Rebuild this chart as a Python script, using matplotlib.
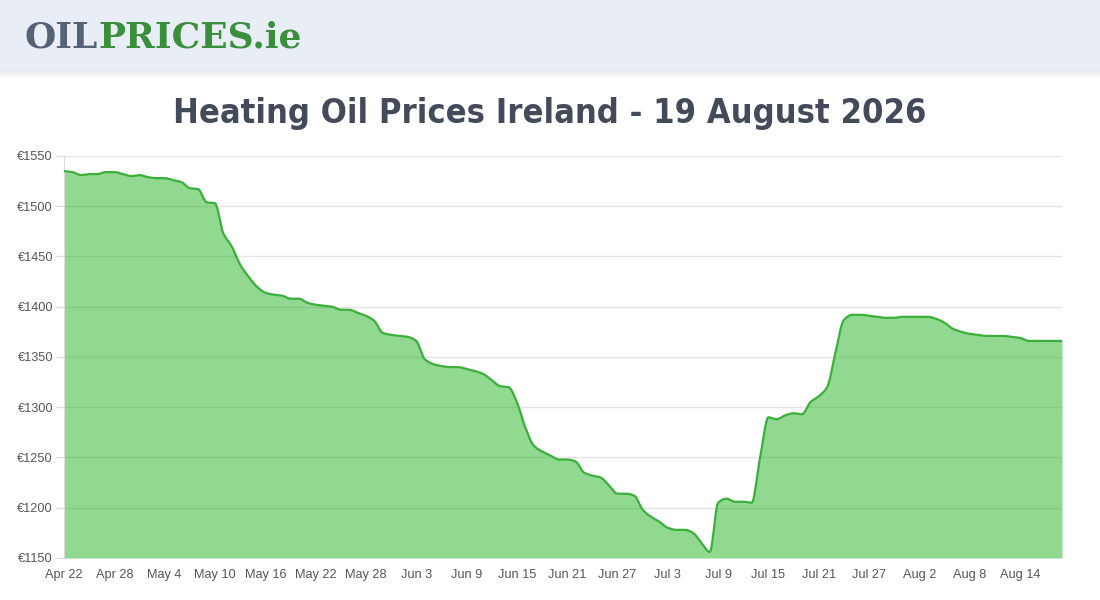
import numpy as np
import matplotlib
matplotlib.use("Agg")
import matplotlib.pyplot as plt
import matplotlib.dates as mdates
from matplotlib.patches import Rectangle

# daily heating oil price, starting Apr 22 2026
start = np.datetime64("2026-04-22")
prices = [
    1535, 1534, 1531, 1532, 1532, 1534, 1534, 1532, 1530, 1531,
    1529, 1528, 1528, 1526, 1524, 1518, 1517, 1504, 1503, 1473,
    1460, 1442, 1430, 1420, 1414, 1412, 1411, 1408, 1408, 1404,
    1402, 1401, 1400, 1397, 1397, 1394, 1391, 1386, 1374, 1372,
    1371, 1370, 1366, 1348, 1343, 1341, 1340, 1340, 1338, 1336,
    1333, 1327, 1321, 1320, 1305, 1280, 1262, 1256, 1252, 1248,
    1248, 1246, 1235, 1232, 1230, 1222, 1214, 1214, 1212, 1198,
    1191, 1186, 1180, 1178, 1178, 1175, 1165, 1156, 1205, 1209,
    1206, 1206, 1205, 1250, 1290, 1288, 1292, 1294, 1293, 1305,
    1311, 1320, 1355, 1387, 1392, 1392, 1391, 1390, 1389, 1389,
    1390, 1390, 1390, 1390, 1388, 1384, 1378, 1375, 1373, 1372,
    1371, 1371, 1371, 1370, 1369, 1366, 1366, 1366, 1366, 1366,
]
y_ticks = [1150, 1200, 1250, 1300, 1350, 1400, 1450, 1500, 1550]
title = "Heating Oil Prices Ireland - 19 August 2026"

dates = start + np.arange(len(prices))
xnum = mdates.date2num(dates.astype("datetime64[D]").astype(object))
yv = np.array(prices, dtype=float)


def monotone(x, y, n=12):
    # monotone cubic curve through the points, for drawing only
    h = np.diff(x)
    d = np.diff(y) / h
    m = np.zeros_like(y)
    m[0], m[-1] = d[0], d[-1]
    for i in range(1, len(y) - 1):
        if d[i - 1] * d[i] > 0:
            m[i] = 2 / (1 / d[i - 1] + 1 / d[i])
    xs, ys = [], []
    for i in range(len(h)):
        t = np.linspace(0, 1, n, endpoint=False)
        h00 = 2 * t**3 - 3 * t**2 + 1
        h10 = t**3 - 2 * t**2 + t
        h01 = -2 * t**3 + 3 * t**2
        h11 = t**3 - t**2
        xs.append(x[i] + t * h[i])
        ys.append(h00 * y[i] + h10 * h[i] * m[i] + h01 * y[i + 1] + h11 * h[i] * m[i + 1])
    xs.append([x[-1]])
    ys.append([y[-1]])
    return np.concatenate(xs), np.concatenate(ys)


sx, sy = monotone(xnum, yv)

fig = plt.figure(figsize=(11, 6), dpi=100)
fig.patch.set_facecolor("white")
renderer = fig.canvas.get_renderer()


def fit_width(txt, target):
    # shrink/grow a text so it spans `target` pixels
    w = txt.get_window_extent(renderer).width
    txt.set_fontsize(txt.get_fontsize() * target / w)


# header band with soft shadow
for k in range(8):
    fig.patches.append(Rectangle((0, 1 - (70 + k) / 600), 1, 1 / 600,
                                 transform=fig.transFigure, color="#000000",
                                 alpha=0.03 * (8 - k) / 8, zorder=0))
fig.patches.append(Rectangle((0, 1 - 70 / 600), 1, 70 / 600, transform=fig.transFigure,
                             color="#E9EDF5", zorder=1))

logo = fig.text(25 / 1100, 1 - 38 / 600, "OILPRICES.ie", family="DejaVu Serif",
                weight="heavy", size=28, va="center", ha="left", alpha=0)
fit_width(logo, 278)
lsize = logo.get_fontsize()
t1 = fig.text(25 / 1100, 1 - 38 / 600, "OIL", color="#566275", va="center", ha="left",
              family="DejaVu Serif", weight="heavy", size=lsize)
bb = t1.get_window_extent(renderer)
fig.text(bb.x1 / 1100, 1 - 38 / 600, "PRICES.ie", color="#3A8F3C", va="center", ha="left",
         family="DejaVu Serif", weight="heavy", size=lsize)

tt = fig.text(550 / 1100, 1 - 113 / 600, title, ha="center", va="center", fontsize=33,
              color="#434A59", family="DejaVu Sans", fontstretch="condensed", weight="bold")
fit_width(tt, 754)

ax = fig.add_axes([64 / 1100, 42 / 600, 998 / 1100, 402 / 600])
ax.set_xlim(xnum[0], xnum[-1])
ax.set_ylim(1150, 1550)
ax.set_yticks(y_ticks)
ax.set_yticklabels([f"€{v}" for v in y_ticks])
ax.grid(axis="y", color="#E3E3E3", linewidth=1)
ax.set_axisbelow(True)
ax.fill_between(sx, sy, 1150, color="#25B225", alpha=0.5, linewidth=0, zorder=2)
ax.plot(sx, sy, color="#3AB03A", linewidth=1.6, zorder=3)

ax.set_xticks(xnum[::6])
ax.set_xticklabels([d.strftime("%b %-d") for d in dates[::6].astype(object)])
for s in ["top", "right", "bottom"]:
    ax.spines[s].set_visible(False)
ax.spines["left"].set_color("#DDDDDD")
ax.tick_params(axis="both", labelsize=9, colors="#555555", length=6, width=1)
ax.tick_params(axis="x", length=0, pad=8)
ax.tick_params(axis="y", color="#DDDDDD", pad=2)
for lab in ax.get_xticklabels() + ax.get_yticklabels():
    lab.set_family(["Liberation Sans", "DejaVu Sans"])
    lab.set_fontsize(9.2)

fig.savefig("out.png", dpi=100)
